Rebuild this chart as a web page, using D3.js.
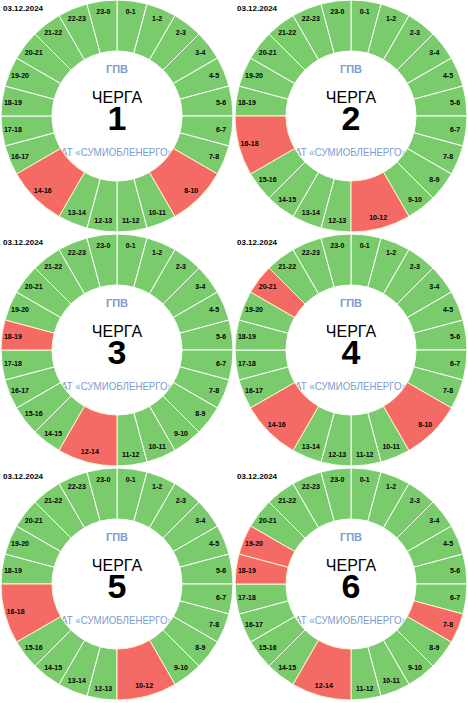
<!DOCTYPE html>
<html>
<head>
<meta charset="utf-8">
<script src="https://cdn.jsdelivr.net/npm/d3@7"></script>
<style>
  body { margin: 0; background: #fff; }
  svg { display: block; font-family: "Liberation Sans", Arial, sans-serif; }
</style>
</head>
<body>
<svg id="chart" width="468" height="703"></svg>
<script>
"use strict";

// schedule for 03.12.2024, hours with no power (start, end)
const dateLabel = "03.12.2024";
const queueNumbers = [1, 2, 3, 4, 5, 6];
const off1 = [[8, 10], [14, 16]];
const off2 = [[10, 12], [16, 18]];
const off3 = [[12, 14], [18, 19]];
const off4 = [[8, 10], [14, 16], [20, 21]];
const off5 = [[10, 12], [16, 18]];
const off6 = [[7, 8], [12, 14], [18, 19], [19, 20]];
const offBlocks = [off1, off2, off3, off4, off5, off6];

const GREEN = "#7acb6c";
const RED = "#f46a64";
const BLUE = "#7d9ccf";

const cell = 234;
const outerR = 116;
const innerR = 65;
const labelR = 105;

const svg = d3.select("#chart");

// turn outage blocks into a full day of segments
function buildSegments(blocks) {
  const segs = [];
  let h = 0;
  while (h < 24) {
    const b = blocks.find(b => b[0] === h);
    if (b) {
      segs.push({ start: b[0], end: b[1], off: true });
      h = b[1];
    } else {
      segs.push({ start: h, end: h + 1, off: false });
      h = h + 1;
    }
  }
  return segs;
}

const pie = d3.pie().sort(null).value(d => d.end - d.start);
const arc = d3.arc().innerRadius(innerR).outerRadius(outerR);
const labelArc = d3.arc().innerRadius(labelR).outerRadius(labelR);

function drawQueue(i) {
  const col = i % 2;
  const row = Math.floor(i / 2);
  const g = svg.append("g")
    .attr("transform", `translate(${col * cell}, ${row * cell})`);

  g.append("text")
    .attr("x", 3)
    .attr("y", 11)
    .attr("font-size", 8)
    .attr("font-weight", "bold")
    .text(dateLabel);

  const c = g.append("g")
    .attr("transform", `translate(117, 116)`);

  // center texts go under the ring so the ring clips the long one
  c.append("text")
    .attr("y", -43)
    .attr("text-anchor", "middle")
    .attr("font-size", 11)
    .attr("font-weight", "bold")
    .attr("fill", BLUE)
    .text("ГПВ");

  c.append("text")
    .attr("y", -13)
    .attr("text-anchor", "middle")
    .attr("font-size", 16)
    .text("ЧЕРГА");

  c.append("text")
    .attr("y", 14)
    .attr("text-anchor", "middle")
    .attr("font-size", 34)
    .attr("font-weight", "bold")
    .text(queueNumbers[i]);

  c.append("text")
    .attr("y", 40)
    .attr("text-anchor", "middle")
    .attr("font-size", 11)
    .attr("textLength", 112)
    .attr("lengthAdjust", "spacingAndGlyphs")
    .attr("fill", BLUE)
    .text("АТ «СУМИОБЛЕНЕРГО»");

  const arcs = pie(buildSegments(offBlocks[i]));
  // green first, red on top so its border stays visible
  const ordered = arcs.filter(d => !d.data.off).concat(arcs.filter(d => d.data.off));

  c.selectAll("path.seg")
    .data(ordered)
    .enter()
    .append("path")
    .attr("class", "seg")
    .attr("d", arc)
    .attr("fill", d => d.data.off ? RED : GREEN)
    .attr("stroke", d => d.data.off ? "#fff4d0" : "#fff")
    .attr("stroke-width", 1);

  c.selectAll("text.lbl")
    .data(arcs)
    .enter()
    .append("text")
    .attr("class", "lbl")
    .attr("transform", d => `translate(${labelArc.centroid(d)})`)
    .attr("dy", "0.35em")
    .attr("text-anchor", "middle")
    .attr("font-size", 7)
    .attr("font-weight", "bold")
    .text(d => `${d.data.start}-${d.data.end % 24}`);
}

queueNumbers.forEach((q, i) => drawQueue(i));
</script>
</body>
</html>
